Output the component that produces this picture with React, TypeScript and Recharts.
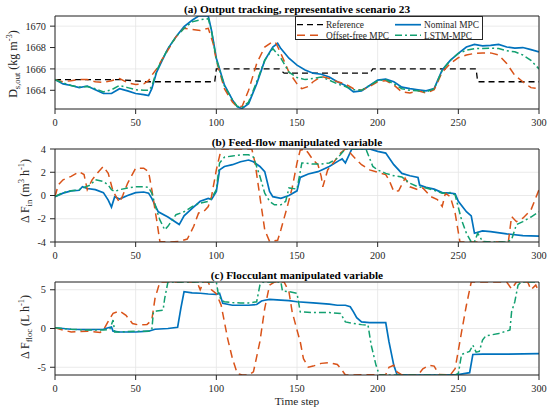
import React from 'react';
import { LineChart, Line, XAxis, YAxis, CartesianGrid, Legend } from 'recharts';

type Pt = [number, number];

// (a) outlet density D_s,out, kg/m3
const dReference: Pt[] = [[0, 1665], [40, 1665], [57, 1664.8], [99, 1664.8], [100, 1666], [139, 1666], [142, 1665.6], [195, 1665.6], [197, 1666], [261, 1666], [262, 1664.8], [300, 1664.8]];
const dNominal: Pt[] = [[0, 1665], [5, 1664.6], [10, 1664.45], [15, 1664.25], [20, 1664.4], [25, 1664.05], [30, 1663.7], [35, 1663.7], [40, 1664.15], [45, 1663.95], [50, 1663.7], [55, 1663.6], [58, 1663.5], [60, 1664.15], [63, 1665.7], [66, 1666.65], [70, 1667.9], [75, 1669], [80, 1669.95], [85, 1670.55], [89, 1670.95], [95, 1670.95], [97, 1669.6], [100, 1667], [105, 1664.5], [110, 1663.1], [113, 1662.45], [116, 1662.3], [120, 1662.75], [125, 1664.6], [130, 1666.8], [135, 1668.05], [138, 1668.4], [140, 1667.9], [145, 1667], [150, 1666.35], [155, 1665.9], [160, 1665.6], [165, 1665.5], [170, 1665.25], [175, 1664.8], [180, 1664.45], [185, 1663.85], [190, 1663.95], [195, 1664.45], [200, 1664.95], [205, 1665.05], [210, 1664.8], [215, 1664.3], [220, 1664.15], [225, 1664.05], [230, 1663.95], [235, 1664.15], [240, 1665.9], [245, 1666.8], [250, 1667.45], [255, 1668.05], [260, 1668.3], [265, 1668.15], [270, 1668.2], [275, 1668.3], [280, 1668.05], [285, 1667.95], [290, 1668], [295, 1667.8], [300, 1667.6]];
const dOffset: Pt[] = [[0, 1665], [5, 1664.8], [10, 1664.9], [15, 1665], [20, 1665], [25, 1664.8], [30, 1664.75], [35, 1664.9], [40, 1665.1], [45, 1664.7], [50, 1664.55], [55, 1664.6], [58, 1664.9], [60, 1665.4], [63, 1666], [66, 1666.8], [70, 1667.75], [75, 1669], [80, 1669.8], [85, 1669.7], [90, 1669.6], [95, 1669.8], [98, 1668.4], [100, 1666.8], [105, 1664.15], [110, 1662.9], [113, 1662.45], [116, 1662.5], [120, 1664], [125, 1666.5], [130, 1668.05], [135, 1668.55], [137, 1668.4], [140, 1667.45], [145, 1665.7], [150, 1664.6], [153, 1664.15], [157, 1664.35], [160, 1664.8], [165, 1665.3], [170, 1665.1], [175, 1664.8], [180, 1664.6], [185, 1664.15], [190, 1664], [195, 1664.35], [200, 1664.8], [205, 1664.9], [210, 1664.5], [215, 1663.85], [220, 1663.75], [225, 1663.95], [230, 1663.75], [235, 1664.05], [240, 1665.7], [245, 1666.5], [250, 1667.05], [255, 1667.3], [260, 1667.45], [265, 1667.5], [270, 1667.5], [275, 1667.3], [280, 1666.5], [285, 1665.4], [290, 1664.8], [295, 1664.25], [300, 1664.15]];
const dLstm: Pt[] = [[0, 1665], [5, 1664.7], [10, 1664.45], [15, 1664.3], [20, 1664.35], [25, 1664.15], [30, 1663.85], [35, 1664.05], [40, 1664.45], [45, 1664.25], [50, 1664.05], [55, 1664], [58, 1664], [60, 1664.35], [63, 1665.85], [66, 1666.75], [70, 1667.9], [75, 1669], [80, 1669.8], [85, 1670.4], [90, 1670.6], [95, 1670.7], [97, 1669.55], [100, 1666.9], [105, 1664.4], [110, 1663.1], [113, 1662.5], [116, 1662.4], [120, 1662.9], [125, 1664.8], [130, 1666.8], [135, 1667.9], [140, 1667], [145, 1665.7], [150, 1665.2], [155, 1665], [160, 1665.1], [165, 1665.25], [170, 1664.95], [175, 1664.6], [180, 1664.35], [185, 1664.05], [190, 1664], [195, 1664.45], [200, 1664.9], [205, 1665], [210, 1664.6], [215, 1664.15], [220, 1664], [225, 1663.95], [230, 1663.85], [235, 1664.15], [240, 1665.85], [245, 1666.8], [250, 1667.45], [255, 1667.75], [260, 1667.9], [265, 1667.9], [270, 1667.95], [275, 1667.9], [280, 1667.7], [285, 1667.6], [290, 1667.3], [295, 1666.8], [300, 1666]];

// (b) feed-flow move, m3/h
const finNominal: Pt[] = [[0, -0.1], [5, 0.2], [10, 0.4], [15, 0.45], [17, 0.75], [20, 0.6], [25, 0.5], [30, 0.25], [33, -0.4], [35, -1.0], [37, -0.1], [40, -0.3], [45, 0], [50, 0.25], [55, 0.3], [58, 0.2], [60, -0.25], [64, -1.4], [70, -1.85], [77, -2.5], [80, -1.75], [85, -1.1], [90, -0.5], [95, -0.25], [97, -0.35], [100, 0.35], [102, 2.2], [105, 2.5], [110, 2.65], [115, 2.9], [120, 3.05], [123, 2.9], [127, 2.5], [130, 2.05], [133, 0.35], [135, -0.1], [140, -0.25], [145, 0], [150, 0.4], [152, 1.55], [157, 1.85], [163, 2.05], [170, 2.5], [176, 3.0], [178, 3.15], [180, 2.8], [184, 4], [195, 4], [200, 3.8], [205, 3.65], [210, 2.65], [215, 1.9], [220, 1.7], [225, 1.55], [226, 0.9], [230, 0.7], [235, 0.55], [240, 0.25], [245, 0.2], [248, 0.15], [250, -0.5], [255, -1.4], [258, -1.75], [260, -3.25], [265, -3.05], [270, -3.1], [280, -3.3], [290, -3.45], [300, -3.5]];
const finOffset: Pt[] = [[0, -0.1], [2, 0.9], [5, 1.35], [10, 1.65], [15, 2.05], [18, 1.8], [20, 0.5], [23, 1.35], [27, 2.05], [30, 2.5], [33, 1.9], [36, 0.35], [40, -0.6], [42, 0], [45, 1.05], [50, 2.35], [55, 2.35], [58, 2.05], [60, 0.5], [63, -2.1], [65, -3.95], [70, -4], [77, -3.95], [82, -3.75], [86, -2.65], [89, -1.5], [92, -1.4], [95, -0.95], [97, -0.1], [100, 2.2], [103, 4], [122, 4], [124, 2.8], [127, -0.1], [130, -2.95], [133, -3.95], [138, -3.85], [140, -2.95], [144, -0.95], [147, 0.65], [150, 2.8], [152, 3.9], [155, 4], [157, 3.65], [160, 3.05], [163, 2.65], [165, 1.65], [166, 0.75], [169, 2.2], [173, 2.9], [177, 3.65], [180, 4], [183, 3.65], [187, 3.05], [190, 2.65], [195, 2.2], [200, 2], [205, 1.8], [207, 1.35], [210, 0.35], [213, 0.4], [217, 1.5], [220, 0.75], [225, 0.5], [228, 0.65], [233, -0.1], [237, -0.35], [240, -0.95], [242, 0.2], [245, -0.1], [248, -1.5], [251, -4], [281, -4], [283, -1.8], [286, -2.25], [290, -1.95], [295, -1.25], [300, 0.5]];
const finLstm: Pt[] = [[0, -0.1], [5, 0.25], [10, 0.4], [15, 0.5], [18, 0.7], [22, 0.9], [25, 1.35], [30, 1.2], [33, 0.9], [35, 0.5], [37, 0.35], [40, 0.5], [45, 0.65], [50, 0.75], [55, 0.75], [58, 0.7], [60, 0.2], [63, -1.25], [65, -2.1], [68, -2.95], [70, -2.65], [75, -1.65], [80, -1.4], [85, -0.95], [90, -0.65], [95, -0.5], [97, -0.25], [100, 0.5], [102, 2.8], [105, 3.3], [110, 3.4], [115, 3.5], [120, 3.5], [123, 3.3], [127, 1.65], [130, 0.2], [133, -0.5], [136, -0.8], [140, -0.8], [143, -0.5], [145, 0.65], [150, 0.55], [153, 2.8], [155, 2.8], [160, 2.7], [165, 2.7], [170, 2.8], [175, 3.2], [180, 4], [190, 4], [193, 3.9], [197, 2.5], [200, 2.2], [205, 1.9], [210, 1.7], [215, 1.6], [220, 1.05], [225, 0.75], [230, 0.65], [235, 0.45], [240, 0.2], [245, 0.25], [248, 0.05], [252, -2.1], [255, -3.25], [258, -4], [260, -4], [262, -3.25], [265, -3.95], [270, -4], [280, -4], [283, -3.8], [286, -2.5], [290, -2.25], [295, -1.85], [300, -1.4]];

// (c) flocculant move, L/h
const flocNominal: Pt[] = [[0, 0.1], [10, -0.1], [20, -0.15], [30, -0.1], [33, 0.1], [35, 0.2], [36, -0.35], [40, -0.45], [50, -0.45], [58, -0.35], [62, -0.1], [70, 0], [76, 0.15], [78, 2.6], [80, 4.75], [85, 4.6], [90, 4.55], [95, 4.45], [100, 4.4], [102, 4.55], [104, 3.25], [110, 3.0], [115, 3.0], [120, 3.0], [125, 3.1], [128, 3.55], [130, 3.65], [133, 3.75], [140, 3.65], [145, 3.6], [150, 3.45], [160, 3.3], [170, 3.15], [175, 3.0], [180, 3.0], [183, 2.8], [185, 2.15], [187, 1.4], [190, 0.85], [195, 0.75], [205, 0.75], [207, -1.7], [210, -4.75], [212, -5.95], [220, -6], [240, -6], [250, -5.95], [257, -5.7], [259, -3.35], [265, -3.3], [280, -3.3], [300, -3.25]];
const flocOffset: Pt[] = [[0, 0.1], [5, -0.2], [10, -0.45], [20, -0.35], [28, -0.5], [30, -0.2], [34, 1.3], [36, 1.95], [40, 2.25], [44, 1.7], [48, 0.65], [52, 0.45], [57, 0.5], [60, 1.1], [62, 3.9], [65, 6], [88, 6], [90, 5], [92, 6], [95, 6], [97, 5], [100, 4.5], [103, 3], [107, -1.3], [110, -3.9], [113, -5.8], [116, -6], [120, -6], [123, -5.6], [127, -1.7], [130, 2.6], [133, 5.6], [136, 6], [142, 6], [145, 4.75], [147, 2.15], [150, -0.2], [152, -1.7], [154, -3.9], [157, -5], [160, -4.85], [165, -4.5], [170, -4.4], [175, -4.65], [178, -5.4], [180, -6], [205, -5.95], [207, -5], [210, -4.75], [212, -5.6], [215, -6], [225, -6], [228, -5.2], [232, -4.75], [235, -4.85], [238, -5.95], [245, -6], [248, -5.2], [252, -0.45], [255, 3.0], [258, 6], [280, 6], [283, 5.1], [286, 6], [293, 6], [295, 5], [298, 5.6], [300, 4.75]];
const flocLstm: Pt[] = [[0, 0.1], [10, -0.1], [20, -0.2], [30, -0.2], [34, -0.1], [36, 1.1], [37, -0.45], [40, -0.45], [50, -0.35], [58, -0.35], [60, -0.2], [61, 2.15], [63, 2.25], [67, 2.35], [68, 3.9], [70, 6], [100, 6], [101, 4.75], [103, 3.65], [105, 3.45], [110, 3.35], [115, 3.3], [120, 3.3], [125, 3.45], [127, 5.6], [129, 6], [140, 6], [141, 4.85], [145, 4.75], [150, 4.55], [152, 2.15], [160, 2.05], [170, 2.05], [177, 1.95], [180, 0.85], [185, 0.65], [190, 0.5], [194, 0.45], [196, -2.15], [199, -4.75], [201, -6], [248, -6], [250, -5.8], [252, -3.35], [255, -3.1], [257, -2.95], [259, -2.15], [261, -3.05], [263, -2.95], [265, -1.5], [267, -0.95], [275, -0.65], [282, -0.2], [283, 2.15], [285, 3.45], [287, 5.6], [289, 6], [300, 6]];

const stepTicks = [0, 50, 100, 150, 200, 250, 300];
const dTicks = [1664, 1666, 1668, 1670];
const finTicks = [-4, -2, 0, 2, 4];
const flocTicks = [-5, 0, 5];

const FONT = '"Liberation Serif", "Times New Roman", serif';
const AXIS = '#262626';

const styles: Record<string, { color: string; dash?: string; width: number }> = {
  Reference: { color: '#000000', dash: '6 4', width: 1.3 },
  'Nominal MPC': { color: '#0072BD', width: 1.7 },
  'Offset-free MPC': { color: '#D95319', dash: '8 5', width: 1.5 },
  'LSTM-MPC': { color: '#12A070', dash: '7 3 2 3', width: 1.5 },
};

const rows = (pts: Pt[]) => pts.map(([x, y]) => ({ x, y }));

const LegendBox = () => {
  const cells = [
    ['Reference', 0, 0], ['Nominal MPC', 1, 0],
    ['Offset-free MPC', 0, 1], ['LSTM-MPC', 1, 1],
  ] as const;
  return (
    <svg width={188} height={24} style={{ display: 'block' }}>
      <rect x={0.5} y={0.5} width={187} height={23} fill="#fff" stroke={AXIS} strokeWidth={1} />
      {cells.map(([name, col, row]) => {
        const s = styles[name];
        const x0 = col === 0 ? 2 : 100;
        const y = row === 0 ? 8.7 : 19.3;
        return (
          <g key={name}>
            <line x1={x0} x2={x0 + 26} y1={y} y2={y} stroke={s.color} strokeWidth={s.width} strokeDasharray={s.dash} />
            <text x={x0 + 29} y={y + 3.2} fontSize={9.4} fontFamily={FONT} fill={AXIS}>{name}</text>
          </g>
        );
      })}
    </svg>
  );
};

type PanelProps = {
  top: number;
  height: number;
  bottom: number;
  domain: [number, number];
  ticks: number[];
  series: [string, Pt[]][];
  title: string;
  yLabel: React.ReactNode;
  labelX: number;
  labelY: number;
  legend?: boolean;
  xLabel?: boolean;
};

const Panel = ({ top, height, bottom, domain, ticks, series, title, yLabel, labelX, labelY, legend, xLabel }: PanelProps) => (
  <div style={{ position: 'absolute', left: 0, top, width: 550, height }}>
    <LineChart width={550} height={height} margin={{ top: 12, right: 7, bottom, left: 0 }}>
      <CartesianGrid stroke="#e4e4e4" strokeWidth={0.8} />
      <XAxis
        dataKey="x" type="number" domain={[0, 300]} ticks={stepTicks} allowDataOverflow
        height={20} tickSize={5} tickMargin={5} stroke={AXIS}
        tick={{ fill: AXIS, fontSize: 10.3, fontFamily: FONT }}
        label={xLabel ? { content: () => <text x={297} y={height - 8} textAnchor="middle" fontSize={11.3} fontFamily={FONT} fill={AXIS}>Time step</text> } : undefined}
      />
      <XAxis
        xAxisId="top" orientation="top" dataKey="x" type="number" domain={[0, 300]} ticks={stepTicks}
        height={4} tickSize={5} tick={false} stroke={AXIS}
        label={{ content: () => <text x={297} y={13} textAnchor="middle" fontSize={11.3} fontWeight="bold" fontFamily={FONT} fill="#000">{title}</text> }}
      />
      <YAxis
        type="number" domain={domain} ticks={ticks} allowDataOverflow width={55} tickSize={5} tickMargin={4}
        stroke={AXIS} tick={{ fill: AXIS, fontSize: 10.3, fontFamily: FONT }}
        label={{ content: () => <text transform={`translate(${labelX},${labelY}) rotate(-90)`} textAnchor="middle" fontSize={12} fontFamily={FONT} fill={AXIS}>{yLabel}</text> }}
      />
      <YAxis yAxisId="right" orientation="right" type="number" domain={domain} ticks={ticks} allowDataOverflow width={4} tickSize={5} tick={false} stroke={AXIS} />
      {series.map(([name, pts]) => (
        <Line
          key={name} name={name} data={rows(pts)} dataKey="y" type="linear" dot={false}
          stroke={styles[name].color} strokeWidth={styles[name].width} strokeDasharray={styles[name].dash}
          isAnimationActive={false}
        />
      ))}
      {legend && (
        <Legend
          layout="vertical" align="center" verticalAlign="middle" content={() => <LegendBox />}
          wrapperStyle={{ position: 'absolute', left: 295, top: 16, width: 188, height: 24 }}
        />
      )}
    </LineChart>
  </div>
);

const sub = (t: string) => <tspan dy={3} fontSize={8.6}>{t}</tspan>;

export default function App() {
  return (
    <div style={{ position: 'absolute', left: 0, top: 0, width: 550, height: 413, background: '#fff', fontFamily: FONT }}>
      <Panel
        top={0} height={129} bottom={0} domain={[1662.25, 1670.95]} ticks={dTicks}
        series={[['Reference', dReference], ['Nominal MPC', dNominal], ['Offset-free MPC', dOffset], ['LSTM-MPC', dLstm]]}
        title="(a) Output tracking, representative scenario 23"
        yLabel={<>D{sub('s,out')}<tspan dy={-3}> (kg m</tspan><tspan dy={-5} fontSize={8.6}>-3</tspan><tspan dy={5}>)</tspan></>}
        labelX={17} labelY={64} legend
      />
      <Panel
        top={133} height={129} bottom={0} domain={[-4, 4]} ticks={finTicks}
        series={[['Nominal MPC', finNominal], ['Offset-free MPC', finOffset], ['LSTM-MPC', finLstm]]}
        title="(b) Feed-flow manipulated variable"
        yLabel={<>Δ F{sub('in')}<tspan dy={-3}> (m</tspan><tspan dy={-5} fontSize={8.6}>3</tspan><tspan dy={5}> h</tspan><tspan dy={-5} fontSize={8.6}>-1</tspan><tspan dy={5}>)</tspan></>}
        labelX={29} labelY={58}
      />
      <Panel
        top={266} height={147} bottom={18} domain={[-6, 6]} ticks={flocTicks}
        series={[['Nominal MPC', flocNominal], ['Offset-free MPC', flocOffset], ['LSTM-MPC', flocLstm]]}
        title="(c) Flocculant manipulated variable"
        yLabel={<>Δ F{sub('floc')}<tspan dy={-3}> (L h</tspan><tspan dy={-5} fontSize={8.6}>-1</tspan><tspan dy={5}>)</tspan></>}
        labelX={29} labelY={61} xLabel
      />
    </div>
  );
}
